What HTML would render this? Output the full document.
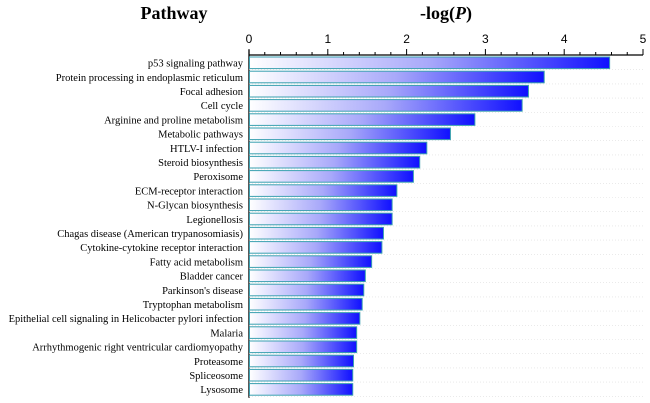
<!DOCTYPE html>
<html><head><meta charset="utf-8">
<style>
body{margin:0;background:#fff;}
svg{display:block;}
</style></head>
<body>
<svg id="chart" width="650" height="403" xmlns="http://www.w3.org/2000/svg">
<defs>
<linearGradient id="grad" x1="0" x2="1" y1="0" y2="0">
<stop offset="0" stop-color="#ffffff"/>
<stop offset="0.5" stop-color="#a8a8fa"/>
<stop offset="1" stop-color="#1010ff"/>
</linearGradient>
</defs>
<text x="174" y="19" text-anchor="middle" font-family="Liberation Serif, serif" font-weight="bold" font-size="18">Pathway</text>
<text x="446" y="19" text-anchor="middle" font-family="Liberation Serif, serif" font-weight="bold" font-size="18">-log(<tspan font-style="italic">P</tspan>)</text>
<g id="axis"></g>
<g id="bars"></g>
</svg>
<script>
const categories=["p53 signaling pathway","Protein processing in endoplasmic reticulum","Focal adhesion","Cell cycle","Arginine and proline metabolism","Metabolic pathways","HTLV-I infection","Steroid biosynthesis","Peroxisome","ECM-receptor interaction","N-Glycan biosynthesis","Legionellosis","Chagas disease (American trypanosomiasis)","Cytokine-cytokine receptor interaction","Fatty acid metabolism","Bladder cancer","Parkinson's disease","Tryptophan metabolism","Epithelial cell signaling in Helicobacter pylori infection","Malaria","Arrhythmogenic right ventricular cardiomyopathy","Proteasome","Spliceosome","Lysosome"];
const values=[4.57,3.74,3.54,3.46,2.86,2.55,2.25,2.16,2.08,1.87,1.81,1.81,1.70,1.68,1.55,1.47,1.45,1.43,1.40,1.36,1.36,1.32,1.31,1.31];
const tickLabels=[0,1,2,3,4,5];
const NS="http://www.w3.org/2000/svg";
const x0=249,x1=643,topY=56,rowH=14.2,maxV=5;
function xs(v){return x0+(x1-x0)*v/maxV;}
function ys(i){return topY+i*rowH;}
function mk(t,a,p){const e=document.createElementNS(NS,t);for(const k in a)e.setAttribute(k,a[k]);p.appendChild(e);return e;}
const ax=document.getElementById('axis'),bg=document.getElementById('bars');
const bottom=ys(categories.length)+1;
let l=mk('line',{x1:x0,x2:x1,y1:55,y2:55,stroke:'#000','stroke-width':1.3},ax);


l=mk('line',{x1:x0,x2:x0,y1:50,y2:bottom,stroke:'#000','stroke-width':1.3},ax);


for(let v=0;v<=maxV+1e-9;v+=0.2){
  const major=Math.abs(v-Math.round(v))<1e-6;
  const t=mk('line',{x1:xs(v),x2:xs(v),y1:55,y2:major?49:52,stroke:'#000','stroke-width':1},ax);
  
  
}
tickLabels.forEach(v=>{
  const t=mk('text',{x:xs(v),y:43,'text-anchor':'middle','font-family':'Liberation Sans, sans-serif','font-size':12},ax);
  t.textContent=v;
  
  
});
categories.forEach((c,i)=>{
  const y=ys(i);
  const g=mk('line',{x1:x0,x2:x1,y1:y+rowH-0.5,y2:y+rowH-0.5,stroke:'#ddd','stroke-width':0.6,'stroke-dasharray':'1,2'},bg);
  
  
  const r=mk('rect',{x:x0+0.5,y:y+1,width:xs(values[i])-x0,height:rowH-2.6,fill:'url(#grad)',stroke:'#3aa0b0','stroke-width':1},bg);
  
  
  const t=mk('text',{x:243,y:y+rowH/2+3.5,'text-anchor':'end','font-family':'Liberation Serif, serif','font-size':10.5},bg);
  t.textContent=c;
  
  
});
</script>
</body></html>
